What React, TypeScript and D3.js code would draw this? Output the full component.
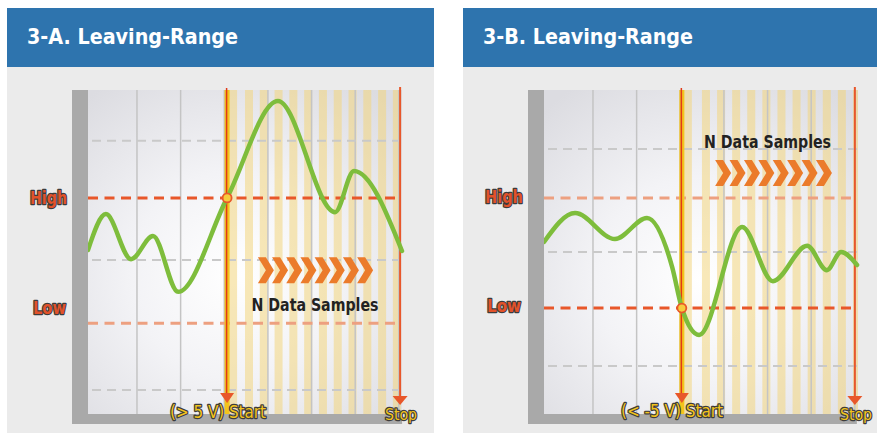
import React from 'react';
import * as d3 from 'd3';

const W = 877;
const H = 433;

const titles = ['3-A. Leaving-Range', '3-B. Leaving-Range'];
const startLabels = ['(> 5 V) Start', '(< -5 V) Start'];
const stopLabel = 'Stop';
const samplesLabel = 'N Data Samples';
const highLabel = 'High';
const lowLabel = 'Low';

// signal curves: [time %, level %]
const signalA: [number, number][] = [
  [0, 50.6], [5.7, 61.7], [13.7, 47.8], [20.7, 54.9], [28.7, 37.7],
  [44.3, 66.7], [60.5, 96.6], [78.7, 62.3], [84.7, 75], [100, 50.3],
];
const signalB: [number, number][] = [
  [0, 53.1], [9.9, 62], [22.6, 54], [32.8, 60.5], [40.8, 45.4], [43.9, 32.7],
  [49.4, 24.4], [63.1, 57.7], [72.9, 41], [83.8, 51.9], [90.1, 44.4],
  [94.6, 50], [99.7, 46],
];

const highA = 66.7;
const lowA = 28;
const highB = 66.7;
const lowB = 32.7;
const gridYA = [84.3, 47.5, 7.4];
const gridYB = [81.8, 50, 14.8];
const gridX = [15.6, 29.5, 43.4, 57.3, 71.2, 85.1, 99];
const triggerA = 44.3;
const stopA = 99.4;
const triggerB = 43.9;
const stopB = 99;
const sampleCount = 11;
const samplesA: [number, number] = [50, 97.1];
const samplesB: [number, number] = [50.3, 98.4];
const chevronCount = 8;

const RED = '#e8572a';
const LIGHT_RED = '#eda080';
const YELLOW = '#f3c41c';
const GREEN = '#7ebd3c';

type PanelProps = {
  id: string;
  left: number;
  right: number;
  plotLeft: number;
  title: string;
  titleWidth: number;
  signal: [number, number][];
  high: number;
  low: number;
  strongHigh: boolean;
  gridY: number[];
  trigger: number;
  triggerLevel: number;
  stop: number;
  samples: [number, number];
  chev: [number, number, number];
  samplesText: [number, number];
  startLabel: string;
  startText: [number, number, number];
  stopText: [number, number, number];
  highText: [number, number, number];
  lowText: [number, number, number];
  glow: [number, number];
};

const outline = {
  paintOrder: 'stroke' as const,
  stroke: '#3c3c3c',
  strokeWidth: 2.4,
  strokeLinejoin: 'round' as const,
};

function Panel(p: PanelProps) {
  const plotW = 314;
  const plotTop = 90;
  const plotBottom = 414;
  const x = d3.scaleLinear().domain([0, 100]).range([p.plotLeft, p.plotLeft + plotW]);
  const y = d3.scaleLinear().domain([0, 100]).range([plotBottom, plotTop]);
  const line = d3
    .line<[number, number]>()
    .x((d) => x(d[0]))
    .y((d) => y(d[1]))
    .curve(d3.curveMonotoneX);

  const stripeW = 8;
  const sampleTimes = d3.range(sampleCount).map(
    (k) => p.samples[0] + (k * (p.samples[1] - p.samples[0])) / (sampleCount - 1)
  );

  const chevW = 16;
  const chevT = 8;
  const chevH = 26;
  const cx0 = x(p.chev[0]);
  const cx1 = x(p.chev[1]);
  const cyc = y(p.chev[2]);
  const step = (cx1 - cx0 - chevW) / (chevronCount - 1);
  const chevrons = d3.range(chevronCount).map((k) => {
    const x0 = cx0 + k * step;
    return [
      [x0, cyc - chevH / 2],
      [x0 + chevT, cyc - chevH / 2],
      [x0 + chevW, cyc],
      [x0 + chevT, cyc + chevH / 2],
      [x0, cyc + chevH / 2],
      [x0 + chevW - chevT, cyc],
    ]
      .map((q) => q.join(','))
      .join(' ');
  });

  const xt = x(p.trigger);
  const xs = x(p.stop);
  const plotRight = p.plotLeft + plotW;
  const stripeFill = 'rgb(243,214,125)';
  const stripeOpacity = 0.55;

  return (
    <g>
      <defs>
        <radialGradient
          id={`glow-${p.id}`}
          gradientUnits="userSpaceOnUse"
          cx={p.glow[0]}
          cy={p.glow[1]}
          r={230}
        >
          <stop offset="0" stopColor="#ffffff" />
          <stop offset="0.45" stopColor="#f3f3f6" />
          <stop offset="1" stopColor="#dcdce1" />
        </radialGradient>
        <clipPath id={`clip-${p.id}`}>
          <rect x={p.plotLeft} y={plotTop} width={plotW} height={plotBottom - plotTop} />
        </clipPath>
      </defs>
      <rect x={p.left} y={8} width={p.right - p.left} height={59} fill="#2e74ae" />
      <text
        x={p.left + 20}
        y={44}
        fill="#ffffff"
        fontFamily="'DejaVu Sans', Verdana, sans-serif"
        fontWeight="bold"
        fontSize={21}
        textLength={p.titleWidth}
        lengthAdjust="spacingAndGlyphs"
      >
        {p.title}
      </text>
      <rect x={p.left} y={67} width={p.right - p.left} height={H - 67} fill="#ebebeb" />
      <rect
        x={p.plotLeft}
        y={plotTop}
        width={plotW}
        height={plotBottom - plotTop}
        fill={`url(#glow-${p.id})`}
      />
      <g clipPath={`url(#clip-${p.id})`}>
        <rect
          x={xt - 2}
          y={plotTop}
          width={12}
          height={plotBottom - plotTop}
          fill={stripeFill}
          fillOpacity={stripeOpacity}
        />
        {sampleTimes.map((t, i) => (
          <rect
            key={i}
            x={x(t)}
            y={plotTop}
            width={stripeW}
            height={plotBottom - plotTop}
            fill={stripeFill}
            fillOpacity={stripeOpacity}
          />
        ))}
        {gridX.map((g, i) => (
          <line
            key={i}
            x1={x(g)}
            x2={x(g)}
            y1={plotTop}
            y2={plotBottom}
            stroke="#c4c4c4"
            strokeWidth={1.5}
          />
        ))}
        {p.gridY.map((g, i) => (
          <line
            key={i}
            x1={p.plotLeft + 4}
            x2={plotRight}
            y1={y(g)}
            y2={y(g)}
            stroke="#c9c9c9"
            strokeWidth={2}
            strokeDasharray="9 6"
          />
        ))}
      </g>
      <line
        x1={p.plotLeft}
        x2={xs}
        y1={y(p.high)}
        y2={y(p.high)}
        stroke={p.strongHigh ? RED : LIGHT_RED}
        strokeWidth={3}
        strokeDasharray="10 6.5"
      />
      <line
        x1={p.plotLeft}
        x2={xs}
        y1={y(p.low)}
        y2={y(p.low)}
        stroke={p.strongHigh ? LIGHT_RED : RED}
        strokeWidth={3}
        strokeDasharray="10 6.5"
      />
      {chevrons.map((pts, i) => (
        <polygon key={i} points={pts} fill="#eb7b2b" />
      ))}
      <text
        x={x(p.samplesText[0])}
        y={y(p.samplesText[1])}
        textAnchor="middle"
        fill="#222222"
        fontFamily="'DejaVu Sans', Verdana, sans-serif"
        fontWeight="bold"
        fontSize={17}
        textLength={127}
        lengthAdjust="spacingAndGlyphs"
      >
        {samplesLabel}
      </text>
      <rect x={xt - 2.5} y={plotTop} width={5} height={plotBottom - plotTop} fill={YELLOW} />
      <line x1={xt - 0.5} x2={xt - 0.5} y1={88} y2={395} stroke="#e03a18" strokeWidth={1.5} />
      <line x1={xs} x2={xs} y1={87} y2={398} stroke={RED} strokeWidth={2} />
      <path
        d={line(p.signal) || ''}
        fill="none"
        stroke={GREEN}
        strokeWidth={4.5}
        strokeLinecap="round"
        strokeLinejoin="round"
      />
      <circle
        cx={xt}
        cy={y(p.triggerLevel)}
        r={4.5}
        fill="#f6cc3c"
        stroke={RED}
        strokeWidth={1.8}
      />
      <rect x={p.plotLeft - 16} y={plotTop} width={16} height={424 - plotTop} fill="#a9a9a9" />
      <rect x={p.plotLeft} y={plotBottom} width={xs + 2 - p.plotLeft} height={10} fill="#a9a9a9" />
      <polygon points={`${xt - 7},393 ${xt + 7},393 ${xt},403`} fill={RED} />
      <polygon points={`${xs - 7.5},396 ${xs + 7.5},396 ${xs},405`} fill={RED} />
      <text
        x={p.startText[0]}
        y={p.startText[2]}
        fill={YELLOW}
        fontFamily="'DejaVu Sans Condensed', 'DejaVu Sans', sans-serif"
        fontSize={17}
        textLength={p.startText[1]}
        lengthAdjust="spacingAndGlyphs"
        {...outline}
      >
        {p.startLabel}
      </text>
      <text
        x={p.stopText[0]}
        y={p.stopText[2]}
        fill={YELLOW}
        fontFamily="'DejaVu Sans Condensed', 'DejaVu Sans', sans-serif"
        fontSize={16}
        textLength={p.stopText[1]}
        lengthAdjust="spacingAndGlyphs"
        {...outline}
      >
        {stopLabel}
      </text>
      <text
        x={p.highText[0]}
        y={p.highText[2]}
        fill="#e2522a"
        fontFamily="'DejaVu Sans Condensed', 'DejaVu Sans', sans-serif"
        fontWeight="bold"
        fontSize={18}
        textLength={p.highText[1]}
        lengthAdjust="spacingAndGlyphs"
        {...outline}
      >
        {highLabel}
      </text>
      <text
        x={p.lowText[0]}
        y={p.lowText[2]}
        fill="#e2522a"
        fontFamily="'DejaVu Sans Condensed', 'DejaVu Sans', sans-serif"
        fontWeight="bold"
        fontSize={18}
        textLength={p.lowText[1]}
        lengthAdjust="spacingAndGlyphs"
        {...outline}
      >
        {lowLabel}
      </text>
    </g>
  );
}

export default function App() {
  return (
    <svg
      width={W}
      height={H}
      style={{ position: 'absolute', left: 0, top: 0, display: 'block' }}
    >
      <rect width={W} height={H} fill="#ffffff" />
      <Panel
        id="a"
        left={7}
        right={434}
        plotLeft={88}
        title={titles[0]}
        titleWidth={211}
        signal={signalA}
        high={highA}
        low={lowA}
        strongHigh={true}
        gridY={gridYA}
        trigger={triggerA}
        triggerLevel={highA}
        stop={stopA}
        samples={samplesA}
        chev={[54.1, 90.8, 44.4]}
        samplesText={[72.3, 31.8]}
        startLabel={startLabels[0]}
        startText={[170, 96, 418]}
        stopText={[385, 32, 420]}
        highText={[30, 37, 204]}
        lowText={[33, 33, 314]}
        glow={[235, 275]}
      />
      <Panel
        id="b"
        left={463}
        right={877}
        plotLeft={544}
        title={titles[1]}
        titleWidth={210}
        signal={signalB}
        high={highB}
        low={lowB}
        strongHigh={false}
        gridY={gridYB}
        trigger={triggerB}
        triggerLevel={lowB}
        stop={stopB}
        samples={samplesB}
        chev={[54.5, 91.7, 74.4]}
        samplesText={[71.2, 82.1]}
        startLabel={startLabels[1]}
        startText={[621, 102, 417]}
        stopText={[840, 32, 420]}
        highText={[485, 38, 203]}
        lowText={[487, 34, 312]}
        glow={[700, 280]}
      />
    </svg>
  );
}
